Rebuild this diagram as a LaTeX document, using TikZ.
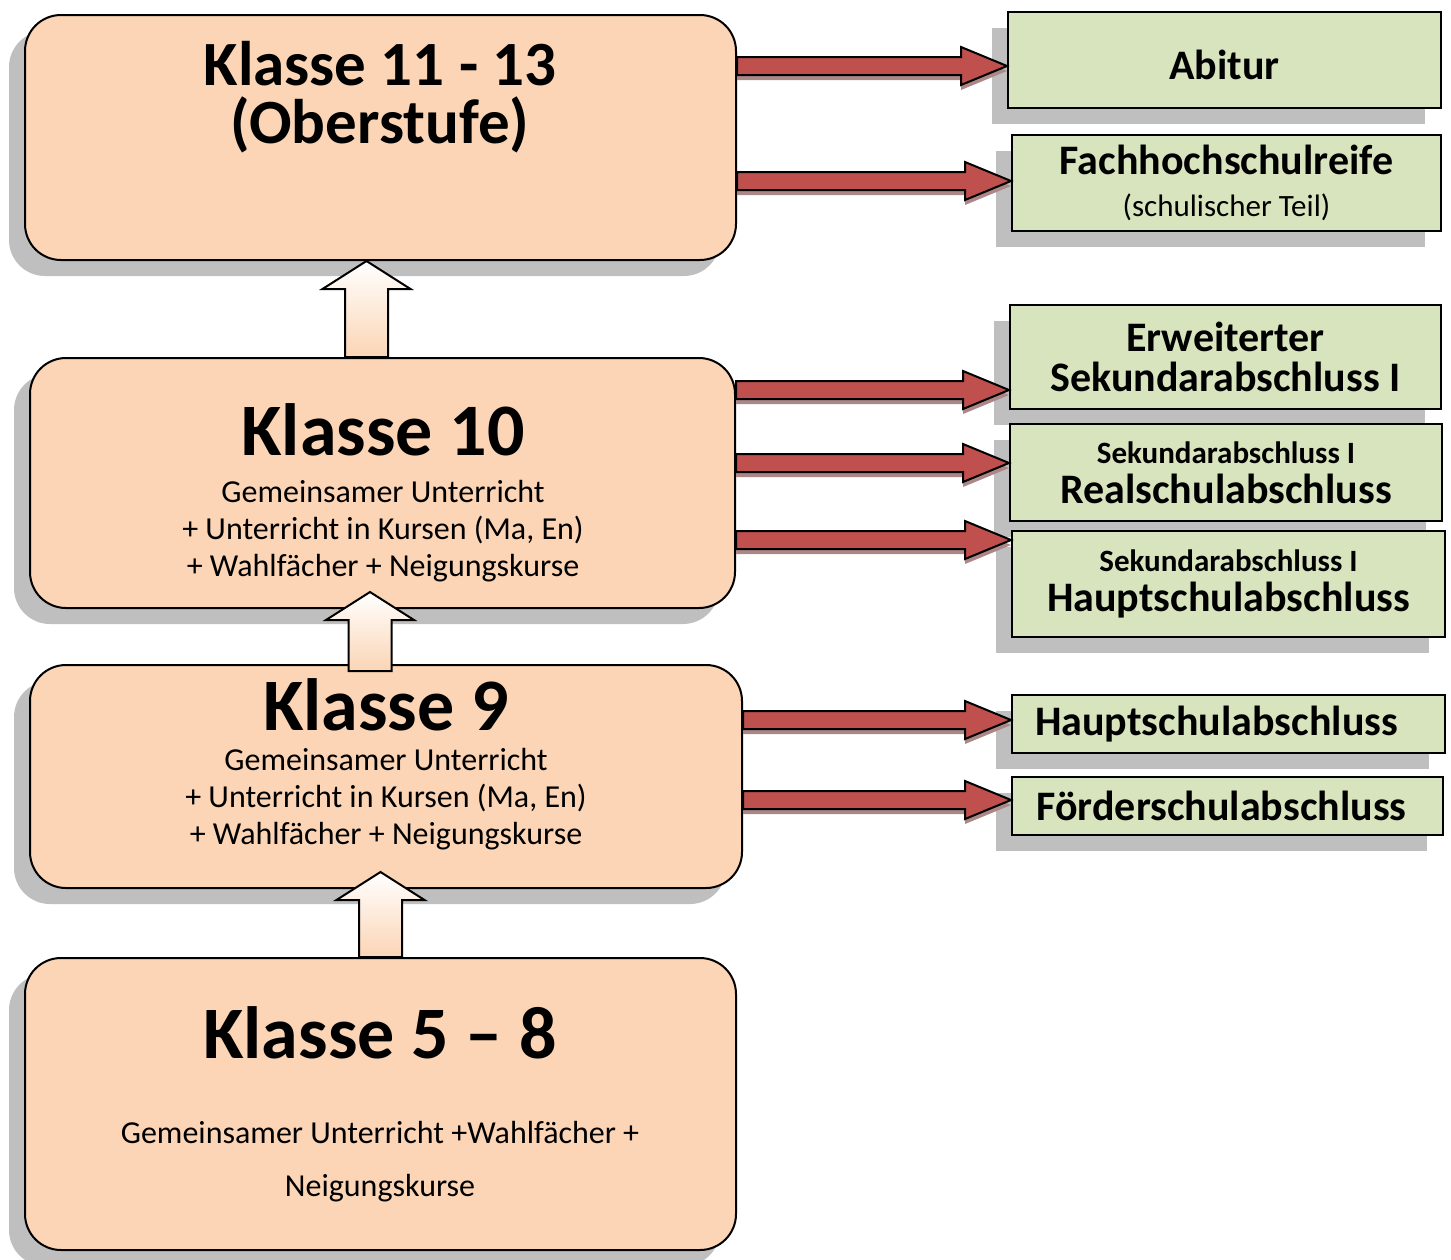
\documentclass[tikz,border=0pt]{standalone}
\usepackage{fontspec}
\setmainfont{Carlito}
\usetikzlibrary{calc, shadows}

\definecolor{pfirsich}{RGB}{251,213,181}
\definecolor{hellgruen}{RGB}{215,228,189}
\definecolor{schatten}{RGB}{191,191,191}
\definecolor{pfeilrot}{RGB}{192,80,77}
\definecolor{pfeilschatten}{RGB}{172,135,135}
\definecolor{hochschatten}{RGB}{214,160,120}

% roter Blockpfeil von #1 nach #2
\newcommand\blockpfeil[2]{%
  \path[fill=pfeilschatten, shift={(2pt,-2.5pt)}] let \p1=#1, \p2=#2 in
    (\x1,\y1+4.5pt) -- (\x2-23pt,\y1+4.5pt) -- (\x2-23pt,\y1+9.5pt) -- (\x2,\y1)
    -- (\x2-23pt,\y1-9.5pt) -- (\x2-23pt,\y1-4.5pt) -- (\x1,\y1-4.5pt) -- cycle;
  \path[draw, line width=1pt, fill=pfeilrot] let \p1=#1, \p2=#2 in
    (\x1,\y1+4.5pt) -- (\x2-23pt,\y1+4.5pt) -- (\x2-23pt,\y1+9.5pt) -- (\x2,\y1)
    -- (\x2-23pt,\y1-9.5pt) -- (\x2-23pt,\y1-4.5pt) -- (\x1,\y1-4.5pt) -- cycle;
}
% weisser Pfeil nach oben von #1 bis #2
\newcommand\hochpfeil[2]{%
  \path[fill=hochschatten, shift={(2.5pt,-2.5pt)}] let \p1=#1, \p2=#2 in
    (\x1-10.75pt,\y1) -- (\x1-10.75pt,\y2-14pt) -- (\x1-22pt,\y2-14pt) -- (\x1,\y2)
    -- (\x1+22pt,\y2-14pt) -- (\x1+10.75pt,\y2-14pt) -- (\x1+10.75pt,\y1) -- cycle;
  \path[draw, line width=1pt, top color=white, bottom color=pfirsich] let \p1=#1, \p2=#2 in
    (\x1-10.75pt,\y1) -- (\x1-10.75pt,\y2-14pt) -- (\x1-22pt,\y2-14pt) -- (\x1,\y2)
    -- (\x1+22pt,\y2-14pt) -- (\x1+10.75pt,\y2-14pt) -- (\x1+10.75pt,\y1) -- cycle;
}

\begin{document}
\begin{tikzpicture}[x=0.5pt, y=-0.5pt,
  stufe/.style={draw, line width=1pt, rounded corners=18pt, fill=pfirsich, inner sep=0pt,
    drop shadow={shadow xshift=-8pt, shadow yshift=-8pt, fill=schatten, opacity=1}},
  abschluss/.style={draw, line width=1pt, fill=hellgruen, inner sep=0pt, align=center,
    font=\bfseries\fontsize{21}{20}\selectfont,
    drop shadow={shadow xshift=-8pt, shadow yshift=-8pt, fill=schatten, opacity=1}},
  titel/.style={inner sep=0pt, align=center, font=\bfseries\fontsize{37}{40}\selectfont},
  inhalt/.style={inner sep=0pt, align=center, font=\fontsize{16}{18.5}\selectfont}]
\useasboundingbox (0,0) rectangle (1451,1259);

% Stufen
\node[stufe, minimum width=355.5pt, minimum height=122.5pt] (k13) at (380.5,137.5) {};
\node[stufe, minimum width=352.5pt, minimum height=125pt] (k10) at (382.5,483) {};
\node[stufe, minimum width=356pt, minimum height=111.5pt] (k9) at (386,776.5) {};
\node[stufe, minimum width=355.5pt, minimum height=146pt] (k58) at (380.5,1104) {};

\node[titel, font=\bfseries\fontsize{31.5}{29}\selectfont] (t13) at (380,97) {Klasse 11 - 13\\(Oberstufe)};
\node[titel] (t10) at (383,430) {Klasse 10};
\node[inhalt] (u10) at (383,531) {Gemeinsamer Unterricht\\+ Unterricht in Kursen (Ma, En)\\+ Wahlfächer + Neigungskurse};
\node[titel] (t9) at (386,705) {Klasse 9};
\node[inhalt] (u9) at (386,799) {Gemeinsamer Unterricht\\+ Unterricht in Kursen (Ma, En)\\+ Wahlfächer + Neigungskurse};
\node[titel] (t58) at (380,1033) {Klasse 5 – 8};
\node[inhalt, font=\fontsize{16}{26.5}\selectfont] (u58) at (380,1162) {Gemeinsamer Unterricht +Wahlfächer +\\Neigungskurse};

% Abschluesse
\node[abschluss, minimum width=216.5pt, minimum height=48pt] (abi) at (1224.5,60) {\raisebox{-2.5pt}[\height][\depth]{Abitur}};
\node[abschluss, minimum width=214.5pt, minimum height=48pt] (fhr) at (1226.5,183)
  {Fachhochschulreife\\[1pt]{\mdseries\fontsize{15.5}{16}\selectfont (schulischer Teil)}};
\node[abschluss, minimum width=215.5pt, minimum height=52pt] (esa) at (1225.5,357) {Erweiterter\\Sekundarabschluss I};
\node[abschluss, minimum width=216pt, minimum height=48.5pt] (rsa) at (1226,472.5)
  {{\fontsize{15.5}{16}\selectfont Sekundarabschluss I}\\Realschulabschluss};
\node[abschluss, minimum width=216.5pt, minimum height=53pt] (hsa1) at (1228.5,584)
  {{\fontsize{15.5}{16}\selectfont Sekundarabschluss I}\\Hauptschulabschluss};
\node[abschluss, minimum width=216.5pt, minimum height=29pt] (hsa2) at (1228.5,724) {\kern-12pt Hauptschulabschluss};
\node[abschluss, minimum width=215.5pt, minimum height=29pt] (fsa) at (1227.5,806) {\kern-6pt Förderschulabschluss};

% Pfeile
\hochpfeil{([xshift=-8pt]k10.north)}{([xshift=-8pt]k13.south)}
\hochpfeil{([xshift=-8pt,yshift=-3.5pt]k9.north)}{([xshift=-8pt,yshift=8.5pt]k10.south)}
\hochpfeil{(k58.north)}{([yshift=8.5pt]k9.south)}

\foreach \von/\nach/\ypos in {k13/abi/66, k13/fhr/181, k10/esa/390, k10/rsa/463,
  k10/hsa1/540, k9/hsa2/720, k9/fsa/800}
  {\blockpfeil{(\von.east |- 0,\ypos)}{(\nach.west |- 0,\ypos)}}
\end{tikzpicture}
\end{document}
